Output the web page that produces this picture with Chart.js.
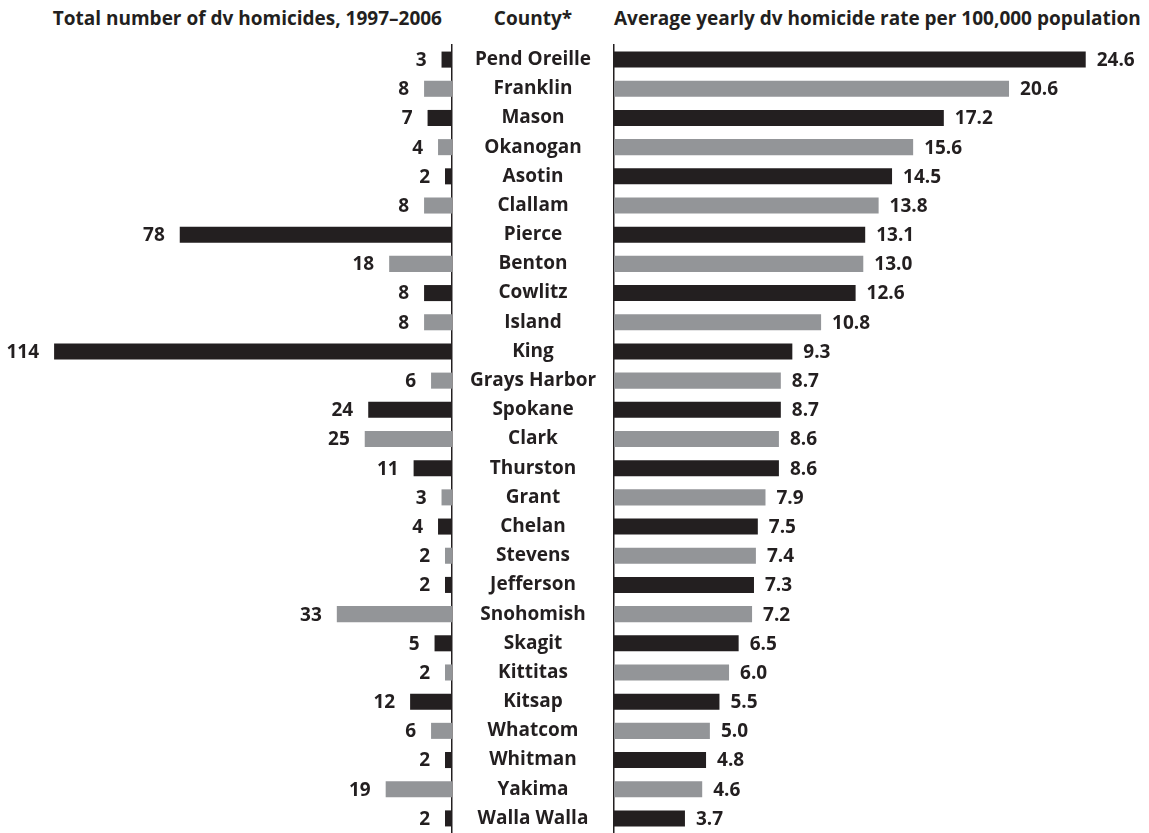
<!DOCTYPE html>
<html>
<head>
<meta charset="utf-8">
<script src="https://cdn.jsdelivr.net/npm/chart.js@4/dist/chart.umd.min.js"></script>
<style>
  body { margin: 0; background: #fff; width: 1149px; height: 833px; overflow: hidden; position: relative; }
  .box { position: absolute; top: 0; height: 833px; }
  .head { position: absolute; top: 5px; font: bold 19px "Open Sans", sans-serif; color: #231f20; white-space: nowrap; }
</style>
</head>
<body>
<div class="head" style="right: 707px;">Total number of dv homicides, 1997–2006</div>
<div class="head" style="left: 533px; transform: translateX(-50%);">County*</div>
<div class="head" style="left: 614px;">Average yearly dv homicide rate per 100,000 population</div>

<div class="box" style="left: 0; width: 614px;"><canvas id="leftChart"></canvas></div>
<div class="box" style="left: 604px; width: 545px;"><canvas id="rightChart"></canvas></div>

<script>
const counties = ["Pend Oreille", "Franklin", "Mason", "Okanogan", "Asotin", "Clallam", "Pierce",
  "Benton", "Cowlitz", "Island", "King", "Grays Harbor", "Spokane", "Clark", "Thurston", "Grant",
  "Chelan", "Stevens", "Jefferson", "Snohomish", "Skagit", "Kittitas", "Kitsap", "Whatcom",
  "Whitman", "Yakima", "Walla Walla"];

// total dv homicides 1997-2006
const totals = [3, 8, 7, 4, 2, 8, 78, 18, 8, 8, 114, 6, 24, 25, 11, 3, 4, 2, 2, 33, 5, 2, 12, 6, 2, 19, 2];

// average yearly rate per 100,000
const rates = [24.6, 20.6, 17.2, 15.6, 14.5, 13.8, 13.1, 13.0, 12.6, 10.8, 9.3, 8.7, 8.7, 8.6, 8.6,
  7.9, 7.5, 7.4, 7.3, 7.2, 6.5, 6.0, 5.5, 5.0, 4.8, 4.6, 3.7];

const DARK = "#231f20";
const GREY = "#939598";
const FONT = "'Open Sans', sans-serif";
const SIZE = 19;
const barColors = counties.map((c, i) => i % 2 === 0 ? DARK : GREY);

// county names sit centred in the gap between the two axes
const gapWidth = 162;
const labelFont = "bold " + SIZE + "px " + FONT;
const measure = document.createElement("canvas").getContext("2d");
measure.font = labelFont;
const widest = Math.max(...counties.map(c => measure.measureText(c).width));

// writes the value next to the end of each bar
const valueLabels = {
  id: "valueLabels",
  afterDatasetsDraw(chart, args, opts) {
    const ctx = chart.ctx;
    const meta = chart.getDatasetMeta(0);
    const values = chart.data.datasets[0].data;
    ctx.save();
    ctx.font = labelFont;
    ctx.fillStyle = DARK;
    ctx.textBaseline = "middle";
    ctx.textAlign = opts.side === "left" ? "right" : "left";
    meta.data.forEach((bar, i) => {
      const v = values[i];
      const text = opts.decimals ? v.toFixed(1) : String(v);
      const x = opts.side === "left" ? bar.x - 15 : bar.x + 11;
      ctx.fillText(text, x, bar.y + 1);
    });
    ctx.restore();
  }
};

// keep the category axis from adding its own top/bottom padding
function flatAxis(axis, width) {
  axis.width = width;
  axis.paddingTop = 0;
  axis.paddingBottom = 0;
}

new Chart(document.getElementById("leftChart"), {
  type: "bar",
  data: {
    labels: counties,
    datasets: [{ data: totals, backgroundColor: barColors, barPercentage: 0.55, categoryPercentage: 1 }]
  },
  options: {
    indexAxis: "y",
    responsive: true,
    maintainAspectRatio: false,
    animation: false,
    layout: { padding: { top: 45, left: 0, right: 0, bottom: 0 } },
    plugins: {
      legend: { display: false },
      tooltip: { enabled: false },
      valueLabels: { side: "left", decimals: false }
    },
    scales: {
      x: { display: false, reverse: true, min: 0, max: 129.5 },
      y: {
        position: "right",
        grid: { display: false, drawTicks: false },
        border: { display: true, color: DARK, width: 1.5 },
        ticks: {
          crossAlign: "center",
          padding: gapWidth / 2 - widest / 2,
          color: DARK,
          font: { family: FONT, size: SIZE, weight: "bold" }
        },
        afterFit(axis) { flatAxis(axis, gapWidth); }
      }
    }
  },
  plugins: [valueLabels]
});

new Chart(document.getElementById("rightChart"), {
  type: "bar",
  data: {
    labels: counties,
    datasets: [{ data: rates, backgroundColor: barColors, barPercentage: 0.55, categoryPercentage: 1 }]
  },
  options: {
    indexAxis: "y",
    responsive: true,
    maintainAspectRatio: false,
    animation: false,
    layout: { padding: { top: 45, left: 10, right: 0, bottom: 0 } },
    plugins: {
      legend: { display: false },
      tooltip: { enabled: false },
      valueLabels: { side: "right", decimals: true }
    },
    scales: {
      x: { display: false, min: 0, max: 27.9 },
      y: {
        position: "left",
        grid: { display: false, drawTicks: false },
        border: { display: true, color: DARK, width: 1.5 },
        ticks: { display: false },
        afterFit(axis) { flatAxis(axis, 0); }
      }
    }
  },
  plugins: [valueLabels]
});
</script>
</body>
</html>
